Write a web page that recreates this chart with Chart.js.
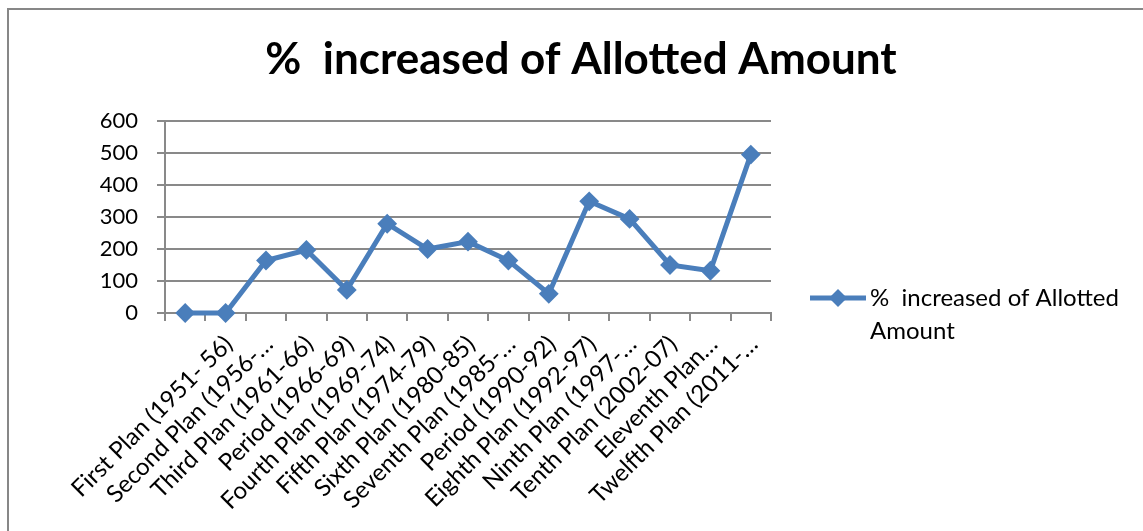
<!DOCTYPE html>
<html lang="en">
<head>
  <meta charset="UTF-8">
  <title>% increased of Allotted Amount</title>
  <script src="https://cdn.jsdelivr.net/npm/chart.js"></script>
  <style>
    body { margin: 0; background: #fff; }
    canvas { display: block; }
  </style>
</head>
<body>
  <canvas id="chart" width="1143" height="531"></canvas>

  <script>
    const chartTitle = "%  increased of Allotted Amount";
    const seriesName = ["%  increased of Allotted", "Amount"];
    const planLabels = [
      "",
      "First Plan (1951- 56)",
      "Second Plan (1956-…",
      "Third Plan (1961-66)",
      "Period (1966-69)",
      "Fourth Plan (1969-74)",
      "Fifth Plan (1974-79)",
      "Sixth Plan (1980-85)",
      "Seventh Plan (1985-…",
      "Period (1990-92)",
      "Eighth Plan (1992-97)",
      "Ninth Plan (1997-…",
      "Tenth Plan (2002-07)",
      "Eleventh Plan…",
      "Twelfth Plan (2011-…"
    ];
    const increasePct = [0, 0, 164, 197, 72, 279, 200, 223, 164, 60, 349, 294, 150, 132, 495];
    const yMin = 0, yMax = 600, yStep = 100;

    const blue = "#4a7ebb";
    const gridGray = "#898989";
    const fontFamily = "Lato, 'Open Sans', sans-serif";

    // frame, title and the two-line legend (Chart.js legend can't wrap)
    const decorations = {
      id: "decorations",
      beforeDraw(chart) {
        const ctx = chart.ctx;
        ctx.save();
        ctx.strokeStyle = "#878787";
        ctx.lineWidth = 2;
        ctx.beginPath();
        ctx.moveTo(8, chart.height);
        ctx.lineTo(8, 9);
        ctx.lineTo(chart.width, 9);
        ctx.stroke();
        ctx.restore();
      },
      afterDraw(chart) {
        const ctx = chart.ctx;
        const area = chart.chartArea;
        ctx.save();
        ctx.fillStyle = "#000";
        ctx.textAlign = "center";
        ctx.textBaseline = "middle";
        ctx.font = "bold 44px " + fontFamily;
        ctx.fillText(chartTitle, 581, 60);

        const lx = area.right + 39, ly = 298;
        ctx.strokeStyle = blue;
        ctx.lineWidth = 5;
        ctx.beginPath();
        ctx.moveTo(lx, ly);
        ctx.lineTo(lx + 56, ly);
        ctx.stroke();
        ctx.fillStyle = blue;
        ctx.beginPath();
        ctx.moveTo(lx + 28, ly - 9);
        ctx.lineTo(lx + 37, ly);
        ctx.lineTo(lx + 28, ly + 9);
        ctx.lineTo(lx + 19, ly);
        ctx.closePath();
        ctx.fill();

        ctx.fillStyle = "#000";
        ctx.textAlign = "left";
        ctx.font = "24px " + fontFamily;
        ctx.fillText(seriesName[0], lx + 60, ly);
        ctx.fillText(seriesName[1], lx + 60, ly + 33);
        ctx.restore();
      }
    };

    const ctx = document.getElementById("chart").getContext("2d");
    new Chart(ctx, {
      type: "line",
      data: {
        labels: planLabels,
        datasets: [{
          label: seriesName.join(" "),
          data: increasePct,
          borderColor: blue,
          backgroundColor: blue,
          borderWidth: 5,
          tension: 0,
          clip: false,
          pointStyle: "rectRot",
          pointRadius: 8.5,
          pointBorderWidth: 2,
          pointBackgroundColor: blue,
          pointBorderColor: blue
        }]
      },
      options: {
        responsive: false,
        animation: false,
        layout: { padding: { top: 121, right: 372, left: 0, bottom: 0 } },
        plugins: {
          legend: { display: false },
          title: { display: false },
          tooltip: { enabled: false }
        },
        scales: {
          x: {
            offset: true,
            afterFit(scale) { scale.height = 218; },
            grid: {
              offset: true,
              drawOnChartArea: false,
              drawTicks: true,
              tickLength: 8,
              color: gridGray,
              lineWidth: 2
            },
            border: { display: true, color: gridGray, width: 2 },
            ticks: {
              autoSkip: false,
              minRotation: 45,
              maxRotation: 45,
              padding: 9,
              labelOffset: 3,
              color: "#000",
              font: { family: fontFamily, size: 24 }
            }
          },
          y: {
            min: yMin,
            max: yMax,
            afterFit(scale) { scale.width = 165; },
            grid: {
              color: gridGray,
              lineWidth: 2,
              tickLength: 8
            },
            border: { display: true, color: gridGray, width: 2 },
            ticks: {
              stepSize: yStep,
              padding: 19,
              color: "#000",
              font: { family: fontFamily, size: 22 }
            }
          }
        }
      },
      plugins: [decorations]
    });
  </script>
</body>
</html>
